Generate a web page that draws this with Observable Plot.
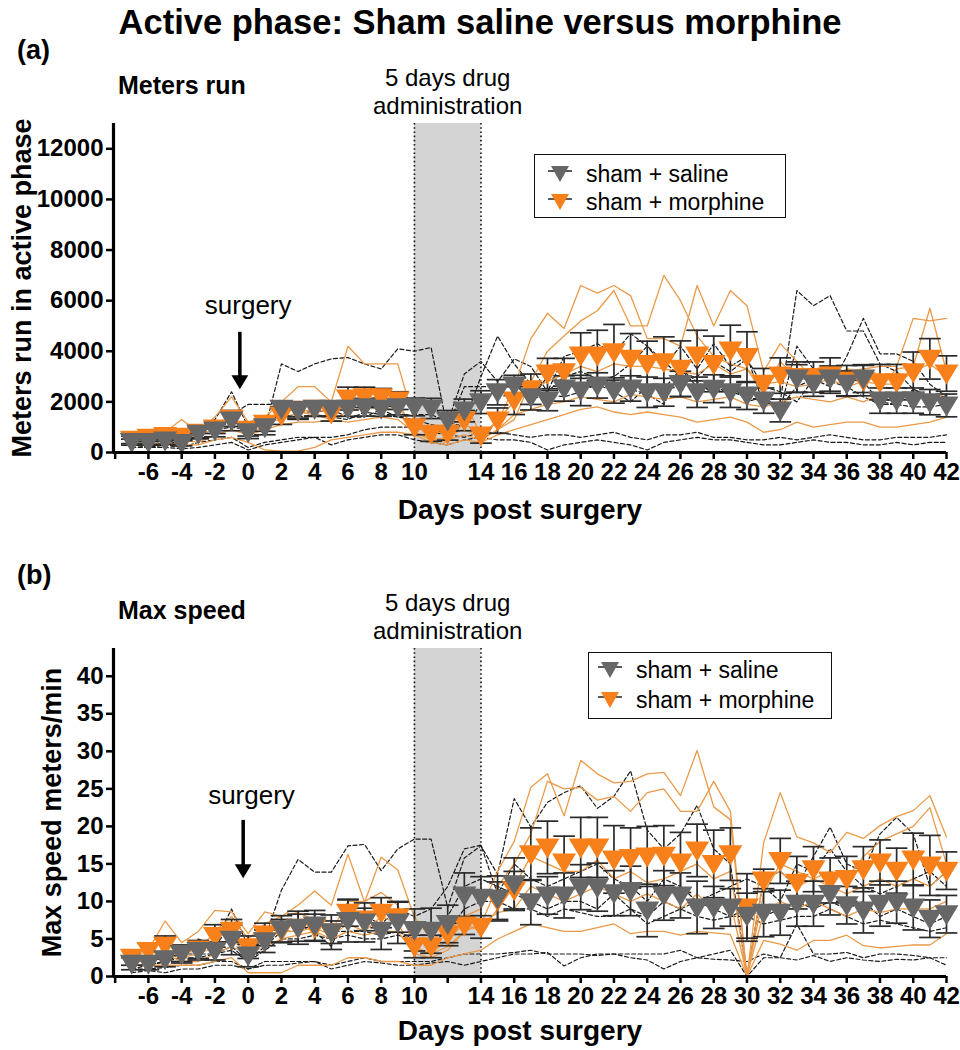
<!DOCTYPE html>
<html>
<head>
<meta charset="utf-8">
<script src="https://cdn.jsdelivr.net/npm/d3@7"></script>
<script src="https://cdn.jsdelivr.net/npm/@observablehq/plot@0.6"></script>
<style>
  html, body { margin: 0; padding: 0; background: #fff; }
  #page { position: relative; width: 960px; height: 1050px; font-family: "Liberation Sans", Arial, sans-serif; color: #000; overflow: hidden; }
  .abs { position: absolute; white-space: nowrap; }
  .legend { position: absolute; border: 1.6px solid #111; background: #fff; box-sizing: border-box; }
  .legend .row { position: absolute; left: 0; display: flex; align-items: center; font-size: 23px; }
  .legend svg { display: block; }
  #page svg g[aria-label="x-axis tick label"], #page svg g[aria-label="y-axis tick label"] { font-size: 24px !important; font-weight: bold !important; }
</style>
</head>
<body>
<div id="page"></div>
<script>
// ---------------- DATA ----------------
const days = [-7,-6,-5,-4,-3,-2,-1,0,1,2, 3,4,5,6,7,8,9,10,11,12, 13,14,15,16,17,18,19,20,21,22, 23,24,25,26,27,28,29,30,31,32, 33,34,35,36,37,38,39,40,41,42];
const xTicks = [-8,-6,-4,-2,0,2,4,6,8,10,12,14,16,18,20,22,24,26,28,30,32,34,36,38,40,42];
const hiddenTickLabels = [-8, 12];
const xDomain = [-8.1, 42];
const drugWindow = [10, 14];
const drugLabelDay = 12;
const groups = ["sham + saline", "sham + morphine"];

// Panel (a): meters run in active phase
const yTicksA = [0,2000,4000,6000,8000,10000,12000];
const yDomainA = [0, 13000];
const salineMeanA = [410,410,475,380,740,870,1260,800,1000,1730, 1660,1730,1730,1730,1790,1730,1790,1800,1740,1260, 1660,1990,2380,2650,2180,2050,2530,2450,2650,2450, 2530,2380,2380,2710,2380,2520,2380,2250,2050,1660, 2920,2720,2920,2720,2920,2050,2050,2050,1990,1860];
const salineSemA = [120,120,150,120,200,250,400,250,300,300, 300,300,300,300,350,300,300,350,400,400, 450,450,500,400,500,400,500,600,500,500, 500,600,550,500,600,550,600,550,500,450, 550,500,500,500,550,500,500,500,500,450];
const morphMeanA = [500,580,650,620,780,950,1330,900,1140,1460, 1660,1730,1540,2130,2180,2180,2050,1000,740,740, 1260,670,1260,2050,2500,3120,3170,3830,3830,3960, 3700,3500,3570,3310,3830,3500,4030,3770,2720,3040, 2980,2980,3040,2840,2840,2780,2780,3170,3700,3120];
const morphSemA = [150,150,150,150,200,200,300,250,300,350, 350,300,300,450,400,350,350,300,300,250, 400,300,500,550,600,600,550,900,1000,1100, 1000,900,1000,1100,1000,1100,1000,1000,600,700, 600,600,700,600,600,700,700,800,800,700];

const salineA1 = [300,250,400,300,1000,1300,2400,1000,900,3500, 3200,3500,3700,3750,3500,3300,4100,4000,4150,900, 1200,3000,4600,3500,2700,2400,3800,4000,4300,3900, 4700,4200,3400,4200,3300,4300,3400,3800,1900,2000, 6400,5800,6200,4800,4800,3500,3200,2500,2200,2000];
const salineA2 = [500,400,500,300,900,1000,1500,1900,1900,1900, 2000,2000,2000,2100,2000,1900,2100,1900,1900,1200, 3100,3600,2800,3700,3400,2400,3000,3200,2900,3000, 3500,4200,3600,3000,3000,3600,3200,3700,2600,2400, 2000,2900,2600,3800,5300,3900,3900,3600,2700,2200];
const salineA3 = [300,200,300,200,400,500,600,200,400,500, 600,600,600,700,900,1000,1000,1000,800,700, 600,800,800,700,600,700,700,600,700,800, 600,500,700,700,800,600,600,500,500,600, 500,600,700,600,500,500,600,600,600,700];
const salineA4 = [200,200,200,150,200,300,400,100,300,400, 500,600,300,500,600,700,700,500,400,300, 500,600,500,500,400,100,300,400,500,400, 300,100,400,500,600,500,500,400,300,300, 400,500,400,400,300,300,400,300,400,400];
const salineA5 = [400,500,600,500,1000,900,1000,900,1200,1500, 1400,1500,1400,1300,1600,1500,1400,1500,1500,1200, 1000,1900,2600,2800,2100,3000,2800,2500,2700,2400, 2000,2600,2500,3300,2800,2300,2700,2000,2200,1700, 4200,3300,2800,2600,2200,1900,1900,1800,1800,1900];
const salineA6 = [500,400,500,600,1000,1200,1300,800,1000,1800, 1600,1600,1700,1400,1400,1700,1400,1300,1100,1000, 2600,2600,2600,2700,2100,2300,2200,2400,2700,2800, 2500,2300,1900,3300,2600,2500,2400,2200,2000,1800, 2600,2900,3200,2900,2800,2000,1900,2500,2200,2200];

const morphA1 = [500,700,800,1300,800,1400,2200,1200,1400,2000, 2600,2600,2000,4200,3500,3500,3500,1200,500,400, 1200,500,900,1300,2800,4000,4600,5200,5600,6400, 5000,5000,7000,6000,4600,3800,3500,3300,2300,3600, 2900,2900,3000,3200,3300,3400,3400,5300,5200,5300];
const morphA2 = [400,500,600,700,600,1000,1400,800,1000,1800, 1600,1700,1600,2000,2000,2300,2000,800,500,600, 2000,700,1200,2600,4500,5500,4900,6600,6300,6600, 6200,4500,4500,4200,6600,5000,6400,5800,3200,4300, 3600,2900,3000,3300,3200,2600,3300,3400,5700,3200];
const morphA3 = [300,400,500,500,700,900,1300,900,1200,1300, 1600,1500,1300,1600,1800,1700,1800,1000,900,700, 900,600,1300,2000,2500,2800,3100,3400,3200,3500, 3400,3400,3300,3200,3100,3500,3100,3300,2700,2800, 2600,2700,2900,2600,2800,2700,2700,3200,3500,3000];
const morphA4 = [500,500,600,500,400,700,900,700,900,1100, 1200,1200,1300,1200,1300,1400,1300,800,600,500, 700,500,900,1500,1700,1900,2000,2200,2100,2000, 2300,2200,2100,2200,2000,2100,2200,1900,1800,2000, 2200,2100,2000,2200,2000,2300,2100,2400,2200,2300];
const morphA5 = [300,300,400,300,300,500,600,400,100,50, 50,200,500,600,700,800,800,700,400,300, 500,400,700,900,1100,1300,1500,1700,1800,1600, 1500,1600,1500,1400,1200,1300,1400,1200,800,900, 1200,1000,1100,1200,1200,1000,1000,1100,1200,1400];

// Panel (b): max speed
const yTicksB = [0,5,10,15,20,25,30,35,40];
const yDomainB = [0, 43.7];
const salineMeanB = [1.7,1.7,2.3,3.0,3.4,3.4,4.9,2.8,4.7,6.3, 6.5,6.8,5.9,7.4,7.2,6.1,7.2,6.2,6.1,7.0, 10.8,10.5,10.4,12.3,9.9,10.8,10.8,11.9,11.9,11.1, 11.4,8.8,10.8,10.8,9.2,9.2,9.2,8.1,8.5,8.5, 9.7,9.7,11.0,9.5,8.8,9.7,9.9,9.2,7.7,8.3];
const salineSemB = [0.8,0.8,1.0,1.0,1.2,1.2,2.0,1.5,1.5,1.8, 2.2,2.0,2.3,2.8,2.6,2.5,2.8,2.8,3.0,2.5, 3.0,2.8,3.0,3.5,3.0,2.5,3.0,3.0,3.2,3.0, 3.3,3.5,3.3,3.0,3.5,2.8,2.5,3.0,3.2,3.0, 3.0,3.0,2.8,2.5,3.0,3.0,2.8,3.0,2.5,2.5];
const morphMeanB = [2.5,3.4,4.1,3.0,3.6,5.4,6.1,3.9,5.6,6.1, 6.5,6.5,5.9,8.5,7.6,8.5,7.9,4.0,4.0,5.6, 6.8,6.6,10.1,11.5,16.3,17.2,15.2,17.2,17.2,15.6, 15.8,16.0,16.1,15.2,16.8,15.0,16.3,9.2,12.8,15.4, 12.5,14.3,12.8,13.0,14.3,15.2,14.1,15.6,14.8,14.1];
const morphSemB = [1.0,1.0,1.3,1.2,1.2,1.5,1.5,1.5,1.5,1.5, 1.8,1.8,1.5,1.8,1.5,2.0,2.0,1.5,1.5,1.5, 1.2,1.5,2.5,2.5,3.5,3.5,3.5,4.0,4.0,4.5, 4.0,4.0,4.0,4.0,3.5,4.5,3.5,4.5,1.5,3.0, 3.5,3.0,3.0,3.0,3.0,3.0,3.0,3.5,4.0,2.5];

const salineB1 = [1.5,1.5,2.0,3.0,4.0,4.5,9.0,4.0,5.0,11.5, 15.6,13.9,13.9,17.4,17.6,14.1,17.0,18.3,18.3,9.2, 15.8,17.4,13.6,23.7,19.9,23.2,24.5,25.4,22.4,24.0, 27.4,19.5,17.0,19.0,22.8,17.0,15.0,0,13.0,14.0, 12.0,16.0,19.9,15.0,14.0,19.0,21.2,19.0,12.0,14.0];
const salineB2 = [2.0,2.0,2.5,3.5,5.0,4.0,7.0,3.0,6.0,7.0, 7.0,6.0,4.0,9.0,8.0,7.0,9.0,8.0,9.0,12.0, 17.0,17.5,11.0,15.0,13.0,12.0,13.0,14.0,15.0,13.0, 12.0,10.0,13.0,12.0,10.0,11.0,12.0,13.0,12.0,10.0, 15.0,14.0,17.0,14.0,12.0,11.0,12.0,13.0,14.0,12.0];
const salineB3 = [1.5,1.5,2.0,3.0,3.0,3.0,4.0,2.0,4.0,6.0, 6.0,7.0,6.0,6.0,6.0,5.5,6.0,5.0,5.0,8.0, 12.0,13.0,12.0,11.0,10.0,9.0,10.0,10.0,9.0,11.0, 9.0,8.0,10.0,9.0,10.0,9.0,8.0,9.0,8.0,9.0, 10.0,9.0,10.0,9.0,10.0,8.0,9.0,8.0,7.0,8.0];
const salineB4 = [1.0,1.5,2.0,2.5,2.5,3.0,3.5,2.0,3.5,5.0, 5.0,5.5,5.0,5.5,5.0,5.0,5.5,5.0,4.5,6.0, 9.0,10.0,10.0,9.0,9.0,8.0,9.0,8.5,8.0,8.0, 9.0,7.0,8.0,9.0,8.0,7.5,8.0,8.0,7.0,7.5, 8.0,8.0,9.0,8.0,7.0,7.5,7.0,6.5,6.0,6.5];
const salineB5 = [0.5,0.8,0.5,1.0,1.0,1.5,1.5,1.0,1.5,1.5, 1.8,2.0,1.0,1.5,2.0,1.8,1.5,1.5,1.8,2.0, 1.5,2.0,2.5,3.0,3.0,3.2,1.4,2.5,3.0,3.0, 2.5,2.2,1.0,2.0,2.5,2.3,2.2,2.0,3.0,2.5, 2.2,2.8,2.0,2.5,2.2,2.0,2.3,2.2,2.5,2.5];
const salineB6 = [1.0,1.0,1.2,1.5,1.5,2.0,2.0,1.0,2.0,2.0, 2.0,2.0,1.5,2.0,2.5,2.0,2.0,2.0,2.0,2.5, 3.0,3.0,3.0,3.2,3.5,3.0,3.0,3.0,2.8,3.0, 3.0,3.0,3.0,3.5,2.5,3.0,3.5,0,2.5,2.5, 7.0,3.0,3.0,3.2,2.5,3.0,3.0,2.8,2.5,1.5];

const morphB1 = [2.5,3.5,7.4,4.5,6.0,8.8,8.6,5.7,8.6,8.0, 9.5,11.4,9.5,16.3,9.9,15.9,14.2,7.9,5.0,6.0, 8.0,9.0,14.0,18.0,25.2,27.0,21.4,28.8,27.0,25.8, 26.0,27.0,27.2,24.1,30.1,22.6,20.9,0,17.8,24.5, 18.6,17.8,16.5,19.2,18.4,20.1,21.3,22.1,24.1,18.6];
const morphB2 = [2.0,3.0,3.5,3.0,3.5,6.0,8.0,5.0,7.0,8.0, 8.5,7.5,6.0,10.0,10.0,11.2,9.5,4.0,3.0,4.0, 6.0,7.0,12.0,15.0,19.0,26.0,25.0,25.2,23.5,24.0, 22.0,24.5,25.0,22.0,22.0,26.0,22.0,0,11.0,15.0, 14.0,13.0,14.0,13.0,16.0,18.0,19.0,20.0,22.5,15.0];
const morphB3 = [2.0,2.5,3.0,2.5,3.0,4.0,5.0,3.0,5.0,6.0, 6.0,6.5,5.5,7.0,6.0,8.0,7.0,3.5,3.0,5.0, 7.0,6.0,9.0,12.0,16.0,15.0,14.0,14.0,15.5,13.0, 14.0,12.5,13.0,14.0,15.0,13.0,14.0,0,13.0,14.0, 12.0,13.0,12.0,11.0,12.0,13.0,12.0,13.0,12.0,14.0];
const morphB4 = [2.0,2.0,3.0,2.0,2.0,3.0,4.0,3.0,4.0,5.0, 5.5,6.0,5.0,6.0,5.5,6.0,6.0,3.0,2.5,3.5, 6.0,7.0,8.5,9.0,12.0,11.0,10.0,11.0,12.0,11.0, 10.0,11.0,10.0,9.0,11.0,9.0,10.0,0,8.5,10.0, 9.0,10.0,9.0,8.0,9.0,8.5,9.0,9.0,9.0,10.0];
const morphB5 = [1.5,1.5,1.5,1.5,1.5,2.0,2.5,0.5,0.5,0.5, 1.5,1.5,1.5,2.5,2.5,2.0,2.0,1.5,1.5,2.5, 3.0,3.5,5.0,6.0,7.0,6.5,6.0,6.0,6.5,7.0, 5.7,6.0,6.0,5.5,6.0,5.8,5.6,0,4.8,4.3, 3.5,4.8,4.8,5.5,4.1,3.8,4.0,4.2,4.2,5.7];

// ---------------- STYLE ----------------
const FONT = '"Liberation Sans", Arial, Helvetica, sans-serif';
const colors = { saline: "#676767", morph: "#F8801B", morphLine: "#EA9A48", err: "#2a2a2a" };

// downward-pointing triangle symbol
const triDown = {
  draw(ctx, size) {
    const r = Math.sqrt(size / Math.PI);
    ctx.moveTo(-1.2 * r, -0.9 * r);
    ctx.lineTo(1.2 * r, -0.9 * r);
    ctx.lineTo(0, 1.1 * r);
    ctx.closePath();
  }
};

function toLong(lines, prefix) {
  const out = [];
  lines.forEach((arr, i) => arr.forEach((v, j) => out.push({ day: days[j], v, id: prefix + i })));
  return out;
}
function toMean(mean, sem) {
  return mean.map((m, j) => ({ day: days[j], m, lo: m - sem[j], hi: m + sem[j] }));
}

function makePanel(cfg) {
  const sal = toMean(cfg.salineMean, cfg.salineSem);
  const mor = toMean(cfg.morphMean, cfg.morphSem);
  const capHalf = 0.65;
  const errMarks = (data) => [
    Plot.ruleX(data, { x: "day", y1: "lo", y2: "hi", stroke: colors.err, strokeWidth: 1.7 }),
    Plot.link(data, { x1: d => d.day - capHalf, x2: d => d.day + capHalf, y1: "hi", y2: "hi", stroke: colors.err, strokeWidth: 1.7 }),
    Plot.link(data, { x1: d => d.day - capHalf, x2: d => d.day + capHalf, y1: "lo", y2: "lo", stroke: colors.err, strokeWidth: 1.7 })
  ];
  return Plot.plot({
    width: 960,
    height: cfg.height,
    marginTop: cfg.marginTop,
    marginBottom: cfg.marginBottom,
    marginLeft: 113,
    marginRight: 14,
    style: { fontFamily: FONT, fontSize: "24px", fontWeight: "bold", background: "transparent", overflow: "visible" },
    x: { domain: xDomain, axis: null },
    y: { domain: cfg.yDomain, axis: null },
    marks: [
      Plot.rect([drugWindow], { x1: d => d[0], x2: d => d[1], fill: "#d4d4d4" }),
      Plot.ruleX(drugWindow, { stroke: "#111", strokeWidth: 1.6, strokeDasharray: "1.6,2.6" }),
      Plot.line(toLong(cfg.salineLines, "s"), { x: "day", y: "v", z: "id", stroke: "#1a1a1a", strokeWidth: 1.2, strokeDasharray: "4,2.5" }),
      Plot.line(toLong(cfg.morphLines, "m"), { x: "day", y: "v", z: "id", stroke: colors.morphLine, strokeWidth: 1.3 }),
      ...errMarks(mor),
      ...errMarks(sal),
      Plot.dot(mor, { x: "day", y: "m", symbol: triDown, r: 10, fill: colors.morph, stroke: "none" }),
      Plot.dot(sal, { x: "day", y: "m", symbol: triDown, r: 10, fill: colors.saline, stroke: "none" }),
      // axes
      Plot.axisY({ ticks: cfg.yTicks, tickFormat: d => String(d), tickSize: 7, tickPadding: 3, strokeWidth: 2.5, fontSize: 24, fontWeight: "bold", label: null }),
      Plot.axisX({ ticks: xTicks, tickFormat: d => hiddenTickLabels.includes(d) ? "" : String(d), tickSize: 7, tickPadding: 3, strokeWidth: 2.5, fontSize: 24, fontWeight: "bold", label: null }),
      Plot.ruleY([cfg.yDomain[0]], { stroke: "#000", strokeWidth: 3.2 }),
      Plot.ruleX([xDomain[0]], { stroke: "#000", strokeWidth: 3.2 }),
      Plot.text([cfg.yLabel], { frameAnchor: "left", dx: cfg.yLabelDx, rotate: -90, textAnchor: "middle", lineAnchor: "middle", fontSize: 27, fontWeight: "bold" }),
      Plot.text(["Days post surgery"], { frameAnchor: "bottom", dx: -10, dy: cfg.xLabelDy, textAnchor: "middle", lineAnchor: "middle", fontSize: 28, fontWeight: "bold" }),
      // annotations
      Plot.text([{ day: drugLabelDay, t: "5 days drug\nadministration" }], { x: "day", text: "t", frameAnchor: "top", lineAnchor: "bottom", dy: -10, fontSize: 24, fontWeight: "normal", lineHeight: 1.15 }),
      Plot.text([cfg.surgery], { x: "textX", y: "textY", text: () => "surgery", fontSize: 26, fontWeight: "normal" }),
      Plot.ruleX([cfg.surgery], { x: "arrowX", y1: "shaftTop", y2: "shaftBottom", stroke: "#000", strokeWidth: 3.5 }),
      Plot.dot([cfg.surgery], { x: "arrowX", y: "headY", symbol: triDown, r: 7, fill: "#000", stroke: "none" })
    ]
  });
}

const surgeryA = { textX: 0, textY: 5800, arrowX: -0.5, shaftTop: 4750, shaftBottom: 3000, headY: 2800 };
const surgeryB = { textX: 0.2, textY: 24.1, arrowX: -0.3, shaftTop: 20.8, shaftBottom: 14.8, headY: 14.1 };

const page = document.getElementById("page");
function addDiv(text, css) {
  const d = document.createElement("div");
  d.className = "abs";
  d.textContent = text;
  Object.assign(d.style, css);
  page.appendChild(d);
  return d;
}

// Title
addDiv("Active phase: Sham saline versus morphine", { left: "0px", width: "960px", textAlign: "center", top: "0px", lineHeight: "44px", fontSize: "34.5px", fontWeight: "bold" });

const plotA = makePanel({
  height: 485, marginTop: 83, marginBottom: 73,
  yDomain: yDomainA, yTicks: yTicksA, yLabel: "Meters run in active phase", yLabelDx: -91, xLabelDy: 58,
  salineMean: salineMeanA, salineSem: salineSemA, morphMean: morphMeanA, morphSem: morphSemA,
  salineLines: [salineA1, salineA2, salineA3, salineA4, salineA5, salineA6],
  morphLines: [morphA1, morphA2, morphA3, morphA4, morphA5],
  surgery: surgeryA
});
plotA.style.position = "absolute"; plotA.style.left = "0px"; plotA.style.top = "40px";
page.appendChild(plotA);

const plotB = makePanel({
  height: 525, marginTop: 123, marginBottom: 74,
  yDomain: yDomainB, yTicks: yTicksB, yLabel: "Max speed meters/min", yLabelDx: -61, xLabelDy: 55,
  salineMean: salineMeanB, salineSem: salineSemB, morphMean: morphMeanB, morphSem: morphSemB,
  salineLines: [salineB1, salineB2, salineB3, salineB4, salineB5, salineB6],
  morphLines: [morphB1, morphB2, morphB3, morphB4, morphB5],
  surgery: surgeryB
});
plotB.style.position = "absolute"; plotB.style.left = "0px"; plotB.style.top = "525px";
page.appendChild(plotB);

// Panel labels
addDiv("(a)", { left: "17px", top: "34px", lineHeight: "32px", fontSize: "27px", fontWeight: "bold" });
addDiv("Meters run", { left: "118px", top: "70px", lineHeight: "30px", fontSize: "25px", fontWeight: "bold" });
addDiv("(b)", { left: "17px", top: "559px", lineHeight: "32px", fontSize: "27px", fontWeight: "bold" });
addDiv("Max speed", { left: "118px", top: "595px", lineHeight: "30px", fontSize: "25px", fontWeight: "bold" });

// Legends
function legendMarker(fill) {
  return `<svg width="34" height="24" viewBox="-17 -12 34 24"><line x1="-12" x2="12" y1="-3" y2="-3" stroke="#333" stroke-width="1.6"/><path d="M-9,-8 L9,-8 L0,8 Z" fill="${fill}"/></svg>`;
}
function addLegend(box) {
  const lg = document.createElement("div");
  lg.className = "legend";
  Object.assign(lg.style, { left: box.left + "px", top: box.top + "px", width: box.w + "px", height: box.h + "px" });
  const fills = [colors.saline, colors.morph];
  groups.forEach((g, i) => {
    const row = document.createElement("div");
    row.className = "row";
    row.style.top = (box.rows[i] - box.top - 14) + "px";
    row.style.height = "28px";
    row.style.left = (box.markerX - box.left - 17) + "px";
    row.innerHTML = legendMarker(fills[i]) + `<span style="margin-left:${box.textX - box.markerX - 17}px">${g}</span>`;
    lg.appendChild(row);
  });
  page.appendChild(lg);
}
addLegend({ left: 534, top: 154, w: 252, h: 64, rows: [173, 201], markerX: 559, textX: 585 });
addLegend({ left: 588, top: 652, w: 244, h: 67, rows: [669, 699], markerX: 609, textX: 635 });
</script>
</body>
</html>
